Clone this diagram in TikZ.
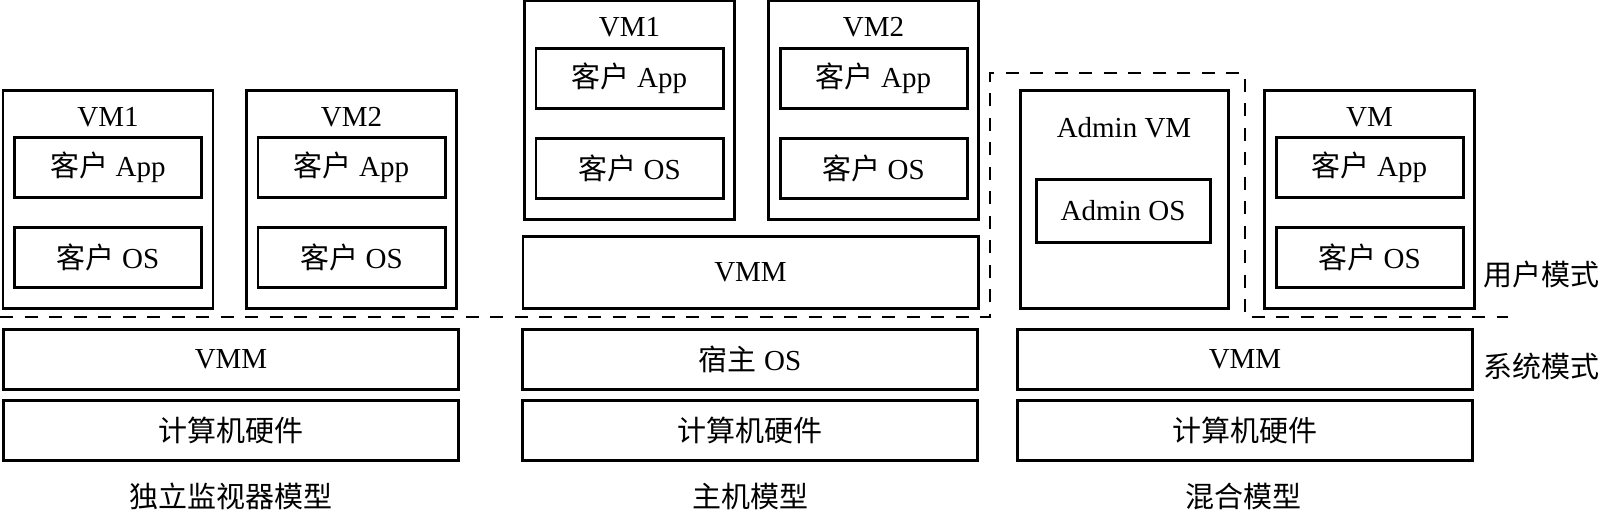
\documentclass[tikz,border=0pt]{standalone}
\usepackage{fontspec}
\setmainfont{Liberation Serif}
\newfontfamily\cjk{Noto Sans CJK SC}
\newcommand{\zh}[1]{{\cjk #1}}

\begin{document}
\begin{tikzpicture}[x=0.2mm, y=-0.2mm,
          every node/.style={font=\fontsize{16.5}{19}\selectfont, inner sep=0pt},
          vmbox/.style={rectangle, draw, line width=1.7pt, minimum width=42mm,
            minimum height=43.6mm},
          innerbox/.style={rectangle, draw, line width=1.7pt, minimum width=37.4mm, minimum height=12mm},
          layerbox/.style={rectangle, draw, line width=1.7pt, minimum width=91mm, minimum height=12mm},
          modeline/.style={line width=1.4pt, dash pattern=on 2.6mm off 2.3mm}]

        \useasboundingbox (0,0) rectangle (1604,511);

        \node[vmbox]    (vm1a)   at (108,199)   {};
        \node[vmbox]    (vm2a)   at (351.5,199) {};
        \node           (vm1at)  at (108,117)   {VM1};
        \node           (vm2at)  at (351.5,117) {VM2};
        \node[innerbox] (app1a)  at (108,167)   {\zh{客户} App};
        \node[innerbox] (os1a)   at (108,257)   {\zh{客户} OS};
        \node[innerbox] (app2a)  at (351.5,167) {\zh{客户} App};
        \node[innerbox] (os2a)   at (351.5,257) {\zh{客户} OS};

        \node[layerbox] (vmma)   at (231,359)   {VMM};
        \node[layerbox] (hwa)    at (231,430.5) {\zh{计算机硬件}};
        \node           (capa)   at (231,496)   {\zh{独立监视器模型}};

        \node[vmbox]    (vm1b)   at (629.5,110) {};
        \node[vmbox]    (vm2b)   at (873.5,110) {};
        \node           (vm1bt)  at (629.5,27)  {VM1};
        \node           (vm2bt)  at (873.5,27)  {VM2};
        \node[innerbox] (app1b)  at (629.5,78)  {\zh{客户} App};
        \node[innerbox] (os1b)   at (629.5,168.5) {\zh{客户} OS};
        \node[innerbox] (app2b)  at (873.5,78)  {\zh{客户} App};
        \node[innerbox] (os2b)   at (873.5,168.5) {\zh{客户} OS};
        \node[layerbox, minimum height=14.4mm] (vmmb) at (750.5,272) {VMM};

        \node[layerbox] (hostb)  at (750,359)   {\zh{宿主} OS};
        \node[layerbox] (hwb)    at (750,430.5) {\zh{计算机硬件}};
        \node           (capb)   at (750,496)   {\zh{主机模型}};

        \node[vmbox, minimum width=41.6mm] (adminvm) at (1124,199) {};
        \node           (adminvmt) at (1124,128) {Admin VM};
        \node[innerbox, minimum width=34.8mm, minimum height=12.6mm] (adminos) at (1123,210.5) {Admin OS};
        \node[vmbox]    (vmc)    at (1369.5,199) {};
        \node           (vmct)   at (1369.5,117) {VM};
        \node[innerbox] (appc)   at (1369.5,167) {\zh{客户} App};
        \node[innerbox] (osc)    at (1369.5,257) {\zh{客户} OS};

        \node[layerbox] (vmmc)   at (1245,359)   {VMM};
        \node[layerbox] (hwc)    at (1245,430.5) {\zh{计算机硬件}};
        \node           (capc)   at (1243,496)   {\zh{混合模型}};

        \node[anchor=west] (usermode) at (1483,274) {\zh{用户模式}};
        \node[anchor=west] (sysmode)  at (1483,366) {\zh{系统模式}};

        \draw[modeline] (0,317) -- (990,317) -- (990,73) -- (1245,73) -- (1245,317) -- (1508,317);

      \end{tikzpicture}
\end{document}
